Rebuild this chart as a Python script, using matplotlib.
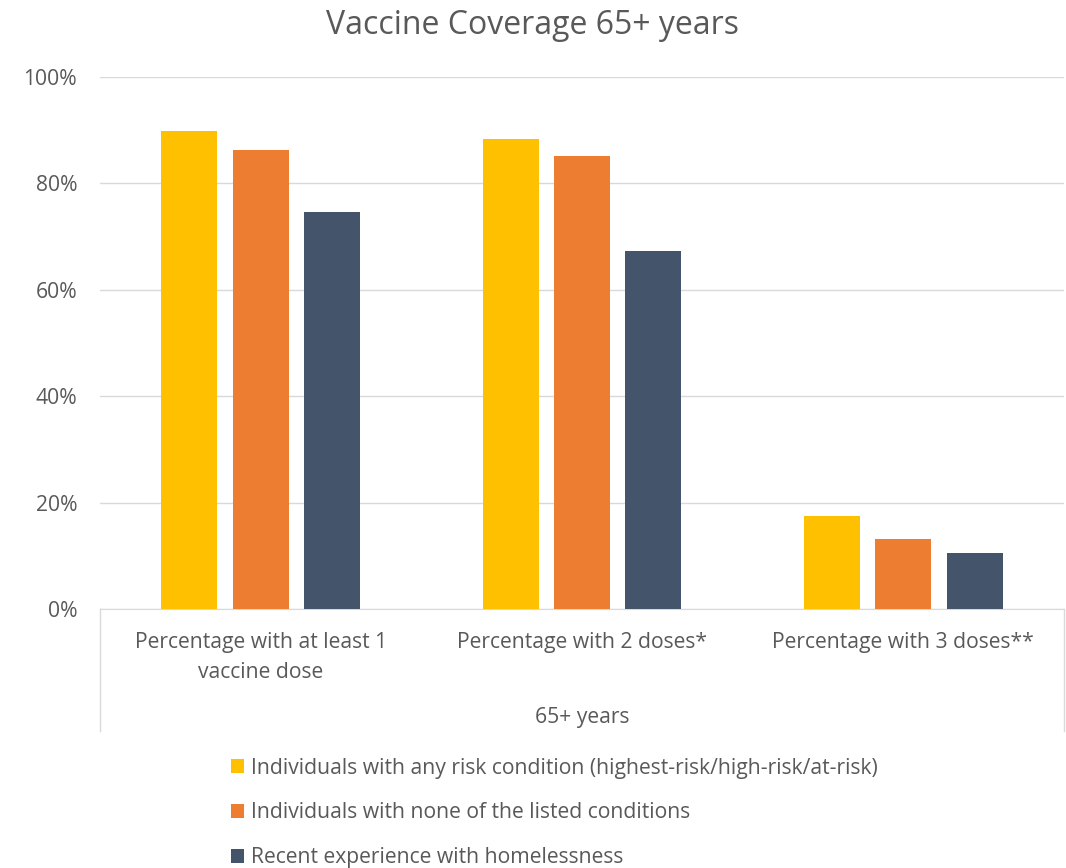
import numpy as np
import matplotlib.pyplot as plt
from matplotlib.patches import Patch

plt.rcParams['font.family'] = ['Open Sans', 'DejaVu Sans']

categories = ['Percentage with at least 1\nvaccine dose',
              'Percentage with 2 doses*',
              'Percentage with 3 doses**']
group_label = '65+ years'
series_names = ['Individuals with any risk condition (highest-risk/high-risk/at-risk)',
                'Individuals with none of the listed conditions',
                'Recent experience with homelessness']
any_risk = [89.8, 88.4, 17.4]
no_condition = [86.3, 85.2, 13.2]
homeless = [74.6, 67.2, 10.6]
colors = ['#FFC000', '#ED7D31', '#44546A']
yticks = [0, 20, 40, 60, 80, 100]

TEXT = '#595959'
GRID = '#D9D9D9'
FS = 15.2

fig = plt.figure(figsize=(10.66, 8.68), dpi=100)
ax = fig.add_axes([100 / 1066, 1 - 609 / 868, 964 / 1066, 532 / 868])

x = np.arange(len(categories))
width = 0.174
step = 0.222
for i, (vals, col) in enumerate(zip([any_risk, no_condition, homeless], colors)):
    ax.bar(x + (i - 1) * step, vals, width, color=col, zorder=3)

ax.set_xlim(-0.5, len(categories) - 0.5)
ax.set_ylim(0, 100)
ax.set_yticks(yticks)
ax.set_yticklabels([f'{t}%' for t in yticks], fontsize=FS, color=TEXT)
ax.yaxis.grid(True, color=GRID, lw=1, zorder=0)
ax.tick_params(axis='y', length=0, pad=16.5)
for s in ['top', 'right', 'left']:
    ax.spines[s].set_visible(False)
ax.spines['bottom'].set_color(GRID)

ax.set_xticks(x)
ax.set_xticklabels(categories, fontsize=FS, color=TEXT, linespacing=1.57)
ax.tick_params(axis='x', length=0, pad=16.5)

# outer boundary lines of the category axis
for xb in [-0.5, len(categories) - 0.5]:
    ax.plot([xb, xb], [0, -23], color=GRID, lw=1, clip_on=False)

ax.text(0.5, -108 / 532, group_label, transform=ax.transAxes,
        ha='center', va='center', fontsize=FS, color=TEXT)

fig.text(0.5, 1 - 25 / 868, 'Vaccine Coverage 65+ years', ha='center', va='center',
         fontsize=23, color=TEXT)

handles = [Patch(facecolor=c) for c in colors]
leg = fig.legend(handles, series_names, loc='center left',
                 bbox_to_anchor=(212 / 1066, 1 - 813 / 868), frameon=False,
                 fontsize=FS, handlelength=0.62, handleheight=0.62,
                 handletextpad=0.33, labelspacing=1.13)
for t in leg.get_texts():
    t.set_color(TEXT)

fig.savefig('out.png', dpi=100)
